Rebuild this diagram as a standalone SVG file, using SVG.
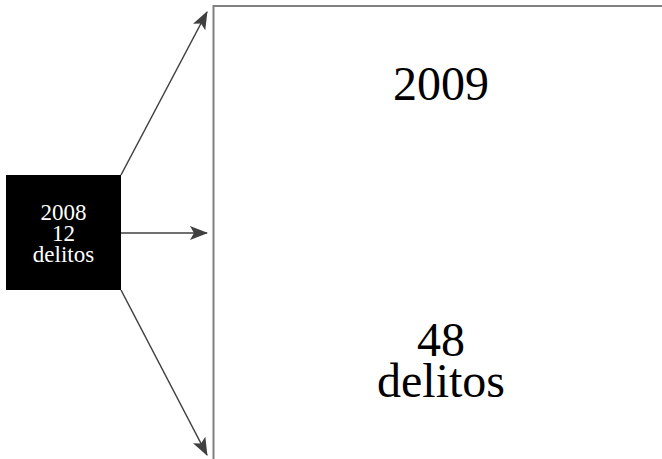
<svg xmlns="http://www.w3.org/2000/svg" width="662" height="459" viewBox="0 0 662 459">
<style>
.t{font-family:"Liberation Serif","Times New Roman",serif;text-anchor:middle}
.c{stroke:#404040;stroke-width:1.5;fill:none;marker-end:url(#ah)}
</style>
<defs>
<marker id="ah" markerWidth="18" markerHeight="14" refX="17" refY="7" orient="auto" markerUnits="userSpaceOnUse">
<path d="M0,0 L18,7 L0,14 L4,7 Z" fill="#404040"/>
</marker>
</defs>
<rect width="662" height="459" fill="#fff"/>
<g id="year2009">
<rect x="213.5" y="6" width="460" height="470" fill="#fff" stroke="#808080" stroke-width="2"/>
<text class="t" x="441" y="100" font-size="48">2009</text>
<text class="t" x="441" y="356" font-size="48">48</text>
<text class="t" x="441" y="397" font-size="48">delitos</text>
</g>
<g id="year2008">
<rect x="6" y="175" width="115" height="115" fill="#000"/>
<text class="t" x="63.5" y="220" font-size="23" fill="#fff">2008</text>
<text class="t" x="63.5" y="241" font-size="23" fill="#fff">12</text>
<text class="t" x="63.5" y="262" font-size="23" fill="#fff">delitos</text>
</g>
<g id="connectors">
<path class="c" d="M121,175 L207,12"/>
<path class="c" d="M121,233 L207,233"/>
<path class="c" d="M121,290 L207,455"/>
</g>
</svg>
